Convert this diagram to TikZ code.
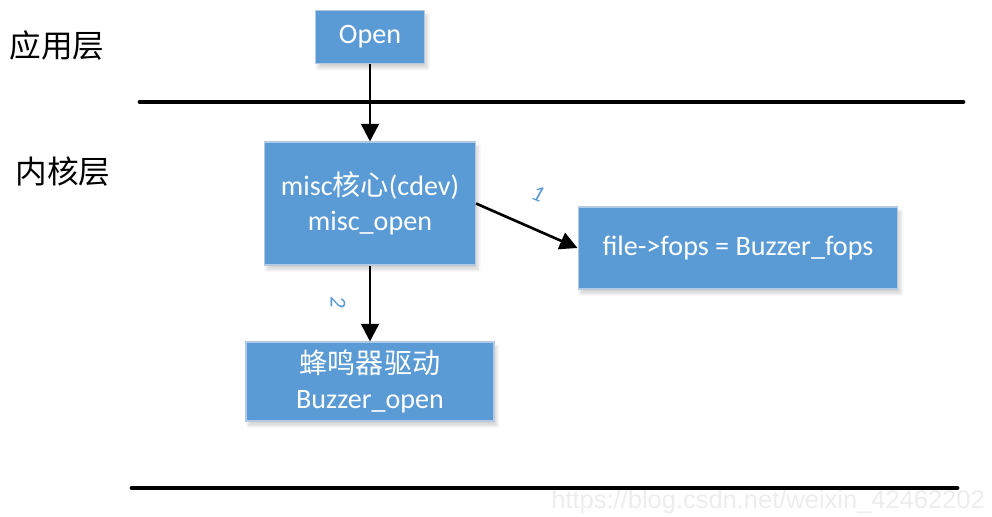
\documentclass[tikz,border=0pt]{standalone}
\usepackage{fontspec}
\setmainfont{Carlito}
\newfontfamily\cjk{Noto Sans CJK SC}
\newfontfamily\wmfont{Liberation Sans}
\usetikzlibrary{arrows.meta,shadows.blur}
\definecolor{boxblue}{HTML}{5B9BD5}
\definecolor{boxedge}{HTML}{B4C9E4}
\definecolor{tagblue}{HTML}{5B9BD5}
\definecolor{wmgray}{HTML}{EDEDED}
\tikzset{
  blockbox/.style={draw=boxedge, line width=0.6pt, fill=boxblue, text=white,
    align=center, inner sep=0pt,
    font=\fontsize{16}{19.8}\selectfont,
    blur shadow={shadow xshift=1.5pt, shadow yshift=-2.5pt, shadow blur steps=6, shadow opacity=18}},
  layertext/.style={font=\cjk\fontsize{18}{22}\selectfont, text=black},
  flow/.style={line width=1.5pt, -{Triangle[length=10pt,width=10pt]}},
  divider/.style={line width=2.8pt, line cap=round},
  tag/.style={text=tagblue, font=\itshape\fontsize{13}{14}\selectfont},
}
\begin{document}
\begin{tikzpicture}[x=0.02cm, y=-0.02cm]
  \useasboundingbox (0,0) rectangle (992,517);

  % layer captions
  \node[layertext] (app) at (57,45) {应用层};
  \node[layertext] (kern) at (63,172) {内核层};

  % layer dividers
  \coordinate (d1a) at (140,102);
  \coordinate (d1b) at (963,102);
  \coordinate (d2a) at (132,488);
  \coordinate (d2b) at (957,488);

  % watermark
  \node[text=wmgray, font=\wmfont\fontsize{14.5}{16}\selectfont, anchor=east] (wm) at (991,502) {https://blog.csdn.net/weixin\_42462202};

  \draw[divider] (d1a) -- (d1b);
  \draw[divider] (d2a) -- (d2b);

  % blocks
  \node[blockbox, minimum width=2.18cm, minimum height=1.06cm] (open) at (370,37) {Open};
  \node[blockbox, minimum width=4.22cm, minimum height=2.46cm] (misc) at (370,203.5)
    {misc{\cjk 核心}(cdev)\\misc\_open};
  \node[blockbox, minimum width=6.4cm, minimum height=1.64cm] (fops) at (738,248)
    {file->fops = Buzzer\_fops};
  \node[blockbox, minimum width=4.96cm, minimum height=1.58cm] (buzz) at (370,381.5)
    {{\cjk 蜂鸣器驱动}\\Buzzer\_open};

  % connectors
  \draw[flow] (open.south) -- (misc.north);
  \draw[flow] (misc.east) -- (fops.west);
  \draw[flow] (misc.south) -- (buzz.north);

  % connector tags
  \node[tag, rotate=-22] (t1) at (538,194) {1};
  \node[tag, rotate=-90] (t2) at (338,302) {2};
\end{tikzpicture}
\end{document}
